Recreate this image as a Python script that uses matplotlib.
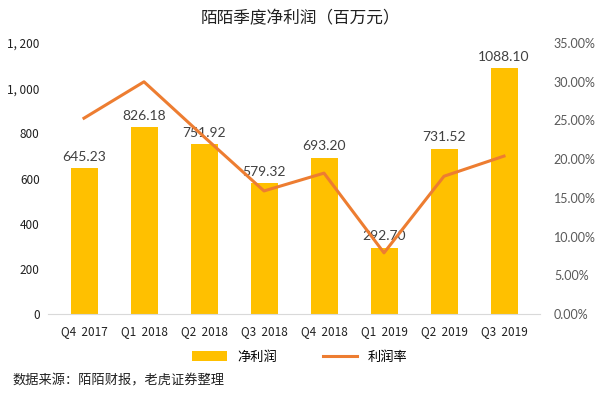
import numpy as np
import matplotlib
matplotlib.use('Agg')
import matplotlib.pyplot as plt
from matplotlib.ticker import FuncFormatter

plt.rcParams['font.family'] = ['Noto Sans CJK SC', 'DejaVu Sans']

quarters = ['Q4  2017', 'Q1  2018', 'Q2  2018', 'Q3  2018',
            'Q4  2018', 'Q1  2019', 'Q2  2019', 'Q3  2019']
net_profit = [645.23, 826.18, 751.92, 579.32, 693.20, 292.70, 731.52, 1088.10]
margin = [25.3, 30.0, 22.9, 15.9, 18.2, 7.9, 17.8, 20.4]

fig = plt.figure(figsize=(6, 3.99), dpi=100)
ax = fig.add_axes([0.08, 0.213, 0.82, 0.679])
x = np.arange(len(quarters))

bars = ax.bar(x, net_profit, width=0.45, color='#FFC000', label='净利润', zorder=2)
for xi, v in zip(x, net_profit):
    ax.text(xi, v + 25, f'{v:.2f}', ha='center', va='bottom', fontsize=10,
            color='#404040', family=['Lato'])

ax.set_ylim(0, 1200)
ax.set_yticks(range(0, 1201, 200))
ax.yaxis.set_major_formatter(FuncFormatter(lambda v, p: f'{int(v):,}'.replace(',', ', ')))
ax.set_xlim(-0.6, len(quarters) - 0.4)
ax.set_xticks(x)
ax.set_xticklabels(quarters, fontsize=8.5, color='#202020')
for s in ['top', 'right', 'left']:
    ax.spines[s].set_visible(False)
ax.spines['bottom'].set_color('#d9d9d9')
ax.tick_params(axis='both', length=0, labelsize=8.5, colors='#202020')
ax.tick_params(axis='x', pad=8)
ax.tick_params(axis='y', pad=6)

ax2 = ax.twinx()
line, = ax2.plot(x, margin, color='#ED7D31', linewidth=2.2, label='利润率', zorder=3)
ax2.set_ylim(0, 35)
ax2.set_yticks(range(0, 36, 5))
ax2.yaxis.set_major_formatter(FuncFormatter(lambda v, p: f'{v:.2f}%'))
for s in ['top', 'right', 'left', 'bottom']:
    ax2.spines[s].set_visible(False)
ax2.tick_params(axis='y', length=0, labelsize=9, colors='#595959', pad=10)
for t in ax2.get_yticklabels():
    t.set_family(['Lato'])

fig.text(0.5, 0.952, '陌陌季度净利润（百万元）', ha='center', va='center',
         fontsize=12, color='#202020')
fig.legend(handles=[bars, line], loc='center', bbox_to_anchor=(0.5, 0.105),
           ncol=2, frameon=False, fontsize=9.5, handlelength=2.6, columnspacing=3.5)
fig.text(0.02, 0.045, '数据来源：陌陌财报，老虎证券整理', ha='left', va='center',
         fontsize=9.5, color='#202020')

fig.savefig('out.png', dpi=100)
